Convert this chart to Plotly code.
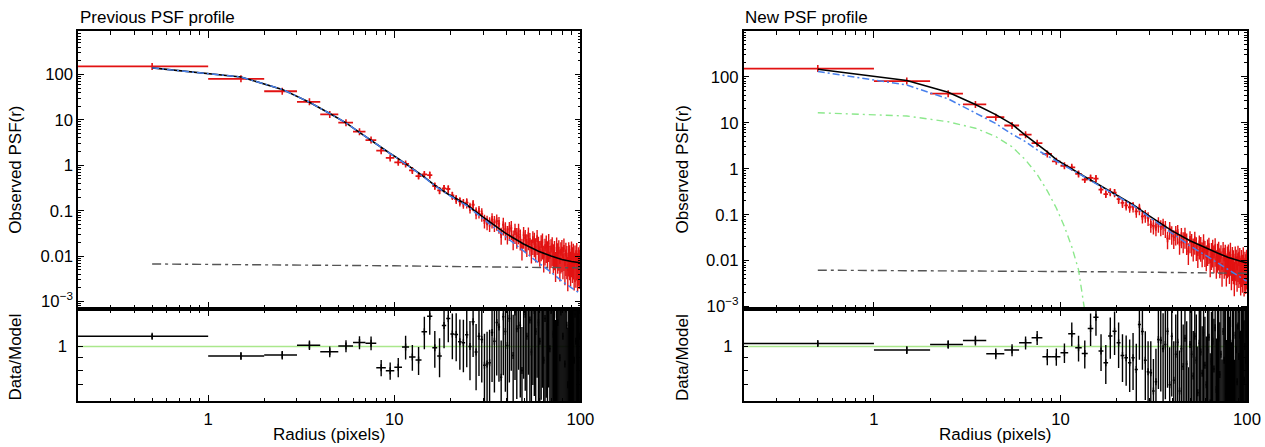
import math
import plotly.graph_objects as go

# ---------------- data ----------------
radius_bins = [0.5, 1.5, 2.5, 3.5, 4.5, 5.5, 6.5, 7.5, 8.5, 9.5,
               10.5, 11.5, 12.5, 13.5, 14.5, 15.5, 16.5, 17.5, 18.5, 19.5,
               20.5, 21.5, 22.5, 23.5, 24.5, 25.5, 26.5, 27.5, 28.5, 29.5,
               30.5, 31.5, 32.5, 33.5, 34.5, 35.5, 36.5, 37.5, 38.5, 39.5,
               40.5, 41.5, 42.5, 43.5, 44.5, 45.5, 46.5, 47.5, 48.5, 49.5,
               50.5, 51.5, 52.5, 53.5, 54.5, 55.5, 56.5, 57.5, 58.5, 59.5,
               60.5, 61.5, 62.5, 63.5, 64.5, 65.5, 66.5, 67.5, 68.5, 69.5,
               70.5, 71.5, 72.5, 73.5, 74.5, 75.5, 76.5, 77.5, 78.5, 79.5,
               80.5, 81.5, 82.5, 83.5, 84.5, 85.5, 86.5, 87.5, 88.5, 89.5,
               90.5, 91.5, 92.5, 93.5, 94.5, 95.5, 96.5, 97.5, 98.5, 99.5]

psf_observed = [151, 80.5, 42.8, 25.0, 13.2, 8.7, 5.5, 3.6, 2.1, 1.45,
                1.16, 1.07, 0.77, 0.58, 0.63, 0.61, 0.35, 0.28, 0.31, 0.30,
                0.217, 0.18, 0.16, 0.145, 0.15, 0.118, 0.135, 0.092, 0.097, 0.085,
                0.061, 0.057, 0.053, 0.064, 0.055, 0.059, 0.052, 0.030, 0.049, 0.039,
                0.032, 0.039, 0.041, 0.025, 0.035, 0.028, 0.035, 0.026, 0.016, 0.029,
                0.025, 0.020, 0.028, 0.021, 0.015, 0.023, 0.021, 0.016, 0.024, 0.017,
                0.0136, 0.0183, 0.0200, 0.0106, 0.0152, 0.0177, 0.0133, 0.0190, 0.0104, 0.0144,
                0.0160, 0.0112, 0.0132, 0.0075, 0.0156, 0.0116, 0.0135, 0.0081, 0.0122, 0.0135,
                0.0094, 0.0146, 0.0071, 0.0117, 0.0099, 0.0056, 0.0119, 0.0101, 0.0073, 0.0122,
                0.0091, 0.0109, 0.0065, 0.0099, 0.0077, 0.0112, 0.0066, 0.0089, 0.0078, 0.0098]

psf_rel_err = [0.022, 0.035, 0.04, 0.045, 0.05, 0.055, 0.06, 0.065, 0.075, 0.08,
               0.09, 0.11, 0.12, 0.13, 0.15, 0.16, 0.17, 0.18, 0.19, 0.20,
               0.21, 0.22, 0.23, 0.24, 0.26, 0.27, 0.28, 0.30, 0.31, 0.33,
               0.34, 0.35, 0.36, 0.37, 0.38, 0.39, 0.40, 0.41, 0.42, 0.43,
               0.44, 0.45, 0.45, 0.46, 0.47, 0.48, 0.48, 0.49, 0.50, 0.50,
               0.51, 0.52, 0.52, 0.53, 0.54, 0.54, 0.55, 0.55, 0.56, 0.57,
               0.57, 0.58, 0.58, 0.59, 0.59, 0.60, 0.60, 0.61, 0.61, 0.62,
               0.62, 0.63, 0.63, 0.64, 0.64, 0.65, 0.65, 0.66, 0.66, 0.67,
               0.67, 0.68, 0.68, 0.69, 0.69, 0.70, 0.70, 0.71, 0.71, 0.72,
               0.72, 0.72, 0.73, 0.73, 0.74, 0.74, 0.75, 0.75, 0.76, 0.76]

ratio_previous = [1.10, 0.915, 0.923, 1.013, 0.952, 1.004, 1.038, 1.032, 0.82, 0.797,
                  0.825, 0.995, 0.906, 0.881, 1.147, 1.327, 0.988, 0.915, 1.216, 1.30,
                  1.125, 1.118, 1.045, 1.035, 1.115, 1.00, 1.26, 0.95, 1.10, 1.067,
                  0.84, 0.85, 0.86, 1.14, 1.05, 1.25, 1.20, 0.75, 1.32, 1.15,
                  1.01, 1.30, 1.45, 0.92, 1.38, 1.18, 1.55, 1.22, 0.80, 1.48,
                  1.35, 1.10, 1.60, 1.28, 0.95, 1.52, 1.40, 1.15, 1.70, 1.25,
                  1.05, 1.45, 1.62, 0.88, 1.30, 1.55, 1.20, 1.75, 0.98, 1.40,
                  1.58, 1.12, 1.35, 0.78, 1.65, 1.25, 1.48, 0.90, 1.38, 1.55,
                  1.10, 1.72, 0.85, 1.42, 1.22, 0.70, 1.50, 1.30, 0.95, 1.60,
                  1.20, 1.45, 0.88, 1.35, 1.05, 1.55, 0.92, 1.25, 1.10, 1.40]

ratio_new = [1.028, 0.967, 1.019, 1.057, 0.934, 0.967, 1.035, 1.084, 0.908, 0.908,
             0.943, 1.126, 0.988, 0.937, 1.183, 1.315, 0.958, 0.859, 1.102, 1.154,
             1.035, 0.92, 0.90, 0.86, 0.90, 0.807, 1.227, 1.15, 0.88, 0.79,
             0.783, 0.66, 0.72, 1.067, 1.06, 0.98, 1.02, 1.154, 0.70, 1.10,
             0.73, 0.93, 1.04, 0.66, 0.98, 0.83, 1.08, 0.85, 0.55, 1.02,
             0.93, 0.76, 1.10, 0.88, 0.65, 1.03, 0.95, 0.78, 1.14, 0.84,
             0.70, 0.97, 1.09, 0.59, 0.87, 1.05, 0.81, 1.19, 0.67, 0.95,
             1.08, 0.77, 0.93, 0.54, 1.15, 0.88, 1.05, 0.64, 0.99, 1.11,
             0.79, 1.24, 0.62, 1.03, 0.89, 0.52, 1.11, 0.97, 0.72, 1.21,
             0.91, 1.11, 0.67, 1.04, 0.82, 1.22, 0.73, 1.00, 0.88, 1.12]

model_radius = [0.5, 1.5, 2.5, 3.5, 4.5, 5.5, 6.5, 7.5, 8.5, 9.5, 10.5, 11.5, 12.5, 13.5,
                14.5, 16.5, 19.5, 24.5, 29.5, 34.5, 39.5, 49.5, 59.5, 69.5, 79.5, 89.5, 99.5]
prev_total = [140, 88, 47, 24.5, 13.8, 8.6, 5.3, 3.5, 2.5, 1.82, 1.40, 1.09, 0.86, 0.68,
              0.55, 0.36, 0.23, 0.135, 0.076, 0.048, 0.032, 0.0185, 0.0128, 0.0100, 0.0084, 0.0076, 0.0071]
prev_king = [140, 88, 47, 24.5, 13.8, 8.6, 5.3, 3.5, 2.49, 1.81, 1.39, 1.08, 0.85, 0.67,
             0.54, 0.354, 0.224, 0.129, 0.070, 0.042, 0.026, 0.0128, 0.0071, 0.0044, 0.0028, 0.0020, 0.0015]
new_total = [146, 83, 46, 25, 15.0, 9.3, 5.3, 3.5, 2.33, 1.57, 1.22, 0.97, 0.80, 0.67,
             0.566, 0.42, 0.286, 0.165, 0.098, 0.065, 0.045, 0.027, 0.019, 0.0146, 0.0117, 0.0100, 0.0089]
new_king = [130, 66, 33, 16.5, 9.6, 5.65, 3.86, 2.56, 1.9, 1.42, 1.15, 0.94, 0.79, 0.66,
            0.56, 0.41, 0.28, 0.159, 0.092, 0.059, 0.039, 0.021, 0.0133, 0.0090, 0.0063, 0.0047, 0.0036]

gauss_radius = [0.5, 1.5, 2.5, 3.5, 4.5, 5.5, 6.5, 7.5, 8.5, 9.5, 10.5, 11.5, 12.5, 13.5]
new_gauss = [16.5, 14.0, 10.5, 7.6, 5.0, 3.0, 1.55, 0.75, 0.33, 0.14, 0.055, 0.02, 0.0063, 0.0008]

bkg_radius = [0.5, 2, 5, 10, 20, 40, 60, 80, 99.5]
prev_bkg = [0.0067, 0.0065, 0.0063, 0.0061, 0.0059, 0.0057, 0.0056, 0.0055, 0.0055]
new_bkg = [0.0062, 0.0061, 0.0060, 0.0058, 0.0057, 0.0056, 0.0055, 0.0054, 0.0053]

x_major = [1, 10, 100]
x_labels = ["1", "10", "100"]
psf_major = [0.001, 0.01, 0.1, 1, 10, 100]
psf_labels = ["10<sup>\u22123</sup>", "0.01", "0.1", "1", "10", "100"]
ratio_major = [1]
ratio_labels = ["1"]
ratio_minor = [0.7, 0.8, 0.9]

# ---------------- style ----------------
RW, RH = 1265, 447              # reference frame used for the layout fractions
K = 1280 / 1265                 # the photographed page is scaled down by this factor
W, H = 1280, 452
FONT = "Liberation Sans, Arial, Helvetica, sans-serif"
RED = "rgb(226,18,18)"
BLUE = "rgb(72,128,236)"
GREEN = "rgb(140,232,140)"
GRAY = "rgb(85,85,85)"
RATIO_LINE = "rgb(170,232,140)"
TICK_SIZE = 16.5 * K
TITLE_SIZE = 16.8 * K

x_minor = [m * d for d in (0.1, 1, 10) for m in range(2, 10) if m * d > 0.2]
psf_minor = [m * 10 ** k for k in range(-4, 3) for m in range(2, 10)]

LEFT = [78 / RW, 580 / RW]
RIGHT = [743 / RW, 1246 / RW]
TOP = [1 - 311 / RH, 1 - 31 / RH]
BOT = [1 - 404 / RH, 1 - 311 / RH]

fig = go.Figure()

panels = [
    dict(xt="x", yt="y", xb="x2", yb="y2", total=prev_total, king=prev_king, bkg=prev_bkg,
         gauss=None, ratio=ratio_previous),
    dict(xt="x3", yt="y3", xb="x4", yb="y4", total=new_total, king=new_king, bkg=new_bkg,
         gauss=new_gauss, ratio=ratio_new),
]

for p in panels:
    yerr = [v * e for v, e in zip(psf_observed, psf_rel_err)]
    fig.add_trace(go.Scatter(
        x=radius_bins, y=psf_observed, xaxis=p["xt"], yaxis=p["yt"], mode="markers",
        marker=dict(symbol="line-ns", size=5, color=RED, line=dict(width=1.6, color=RED)),
        error_x=dict(type="constant", value=0.5, width=0, thickness=1.8, color=RED),
        error_y=dict(type="data", array=yerr, width=0, thickness=1.4, color=RED),
        showlegend=False, hoverinfo="skip"))
    fig.add_trace(go.Scatter(
        x=bkg_radius, y=p["bkg"], xaxis=p["xt"], yaxis=p["yt"], mode="lines",
        line=dict(color=GRAY, width=1.4, dash="9px,4px,3px,4px"), showlegend=False))
    if p["gauss"] is not None:
        fig.add_trace(go.Scatter(
            x=gauss_radius, y=p["gauss"], xaxis=p["xt"], yaxis=p["yt"], mode="lines",
            line=dict(color=GREEN, width=1.4, dash="7px,4px,2px,4px"), showlegend=False))
    fig.add_trace(go.Scatter(
        x=model_radius, y=p["total"], xaxis=p["xt"], yaxis=p["yt"], mode="lines",
        line=dict(color="black", width=1.6), showlegend=False))
    fig.add_trace(go.Scatter(
        x=model_radius, y=p["king"], xaxis=p["xt"], yaxis=p["yt"], mode="lines",
        line=dict(color=BLUE, width=1.5, dash="7px,3px,2px,3px"), showlegend=False))
    rerr = [r * e for r, e in zip(p["ratio"], psf_rel_err)]
    fig.add_trace(go.Scatter(
        x=radius_bins, y=p["ratio"], xaxis=p["xb"], yaxis=p["yb"], mode="markers",
        marker=dict(symbol="line-ns", size=5, color="black", line=dict(width=1.4, color="black")),
        error_x=dict(type="constant", value=0.5, width=0, thickness=1.5, color="black"),
        error_y=dict(type="data", array=rerr, width=0, thickness=1.4, color="black"),
        showlegend=False, hoverinfo="skip"))
    fig.add_shape(type="line", xref=p["xb"] + " domain", x0=0, x1=1, yref=p["yb"], y0=1, y1=1,
                  line=dict(color=RATIO_LINE, width=1.4), layer="below")


def x_axis(domain, anchor, labels):
    return dict(type="log", range=[math.log10(0.2), 2], domain=domain, anchor=anchor,
                showline=True, linecolor="black", linewidth=1.5, mirror="allticks",
                ticks="inside", ticklen=7, tickwidth=1.2, tickcolor="black",
                tickvals=x_major, ticktext=x_labels, showticklabels=labels,
                ticklabelstandoff=2,
                showgrid=False, zeroline=False,
                tickfont=dict(family=FONT, size=TICK_SIZE, color="black"),
                minor=dict(tickvals=x_minor, ticks="inside", ticklen=4, tickwidth=1,
                           tickcolor="black", showgrid=False))


def psf_axis(domain, anchor, yrange):
    return dict(type="log", range=yrange, domain=domain, anchor=anchor,
                showline=True, linecolor="black", linewidth=1.5, mirror="allticks",
                ticks="inside", ticklen=6, tickwidth=1.2, tickcolor="black",
                tickvals=psf_major, ticktext=psf_labels, ticklabelstandoff=0,
                showgrid=False, zeroline=False,
                tickfont=dict(family=FONT, size=TICK_SIZE, color="black"),
                minor=dict(tickvals=psf_minor, ticks="inside", ticklen=3, tickwidth=1,
                           tickcolor="black", showgrid=False))


def ratio_axis(domain, anchor):
    return dict(type="log", range=[math.log10(0.6), math.log10(1.42)], domain=domain,
                anchor=anchor, showline=True, linecolor="black", linewidth=1.5,
                mirror="allticks", ticks="inside", ticklen=5, tickwidth=1.2,
                tickcolor="black", tickvals=ratio_major, ticktext=ratio_labels,
                ticklabelstandoff=6,
                showgrid=False, zeroline=False,
                tickfont=dict(family=FONT, size=TICK_SIZE, color="black"),
                minor=dict(tickvals=ratio_minor, ticks="inside", ticklen=5, tickwidth=1.2,
                           tickcolor="black", showgrid=False))


fig.update_layout(
    width=W, height=H, margin=dict(l=0, r=0, t=0, b=0), autosize=False,
    paper_bgcolor="white", plot_bgcolor="white", showlegend=False,
    font=dict(family=FONT, color="black"),
    xaxis=x_axis(LEFT, "y", False),
    yaxis=psf_axis(TOP, "x", [-3.164, 2.963]),
    xaxis2=x_axis(LEFT, "y2", True),
    yaxis2=ratio_axis(BOT, "x2"),
    xaxis3=x_axis(RIGHT, "y3", False),
    yaxis3=psf_axis(TOP, "x3", [-3.05, 3.0]),
    xaxis4=x_axis(RIGHT, "y4", True),
    yaxis4=ratio_axis(BOT, "x4"),
)
fig.layout.xaxis.matches = "x2"
fig.layout.xaxis3.matches = "x4"

annotations = [
    ("Previous PSF profile", 78 / RW, 1 - 18 / RH, 0, "left"),
    ("New PSF profile", 742 / RW, 1 - 18 / RH, 0, "left"),
    ("Observed PSF(r)", 16 / RW, 1 - 171 / RH, -90, "center"),
    ("Observed PSF(r)", 682 / RW, 1 - 171 / RH, -90, "center"),
    ("Data/Model", 16 / RW, 1 - 360 / RH, -90, "center"),
    ("Data/Model", 682 / RW, 1 - 360 / RH, -90, "center"),
    ("Radius (pixels)", 329 / RW, 1 - 437 / RH, 0, "center"),
    ("Radius (pixels)", 994 / RW, 1 - 437 / RH, 0, "center"),
]
for text, x, y, ang, xanchor in annotations:
    fig.add_annotation(text=text, x=x, y=y, xref="paper", yref="paper", showarrow=False,
                       textangle=ang, xanchor=xanchor, yanchor="middle",
                       font=dict(family=FONT, size=TITLE_SIZE, color="black"))

fig.write_html(
    "out.html",
    config={"displayModeBar": False, "responsive": False},
    post_script=("document.documentElement.style.overflow='hidden';"
                 "document.body.style.margin='0';document.body.style.overflow='hidden';"),
)
